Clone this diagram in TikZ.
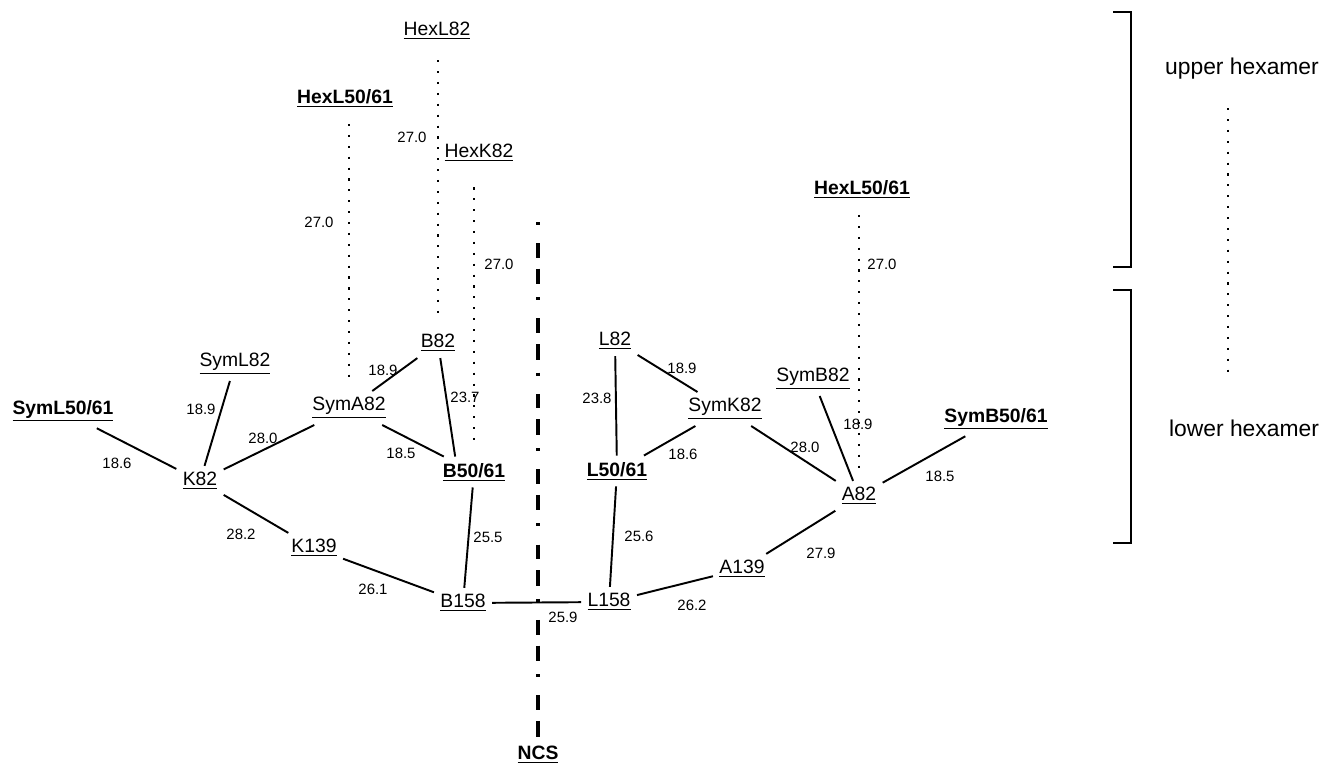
\documentclass[tikz,border=0pt]{standalone}
\usepackage{fontspec}
\setmainfont{Liberation Sans}
\usetikzlibrary{calc}
\tikzset{
  res/.style={inner sep=3.5pt,font=\fontsize{11}{13}\selectfont},
  resb/.style={res,font=\fontsize{11}{13}\selectfont\bfseries},
  dist/.style={inner sep=0pt,font=\fontsize{8.5}{10}\selectfont},
  hexlab/.style={inner sep=2pt,font=\fontsize{13}{15}\selectfont},
  bond/.style={line width=1.1pt},
  contact/.style={line width=1.3pt,dash pattern=on 1.2pt off 5pt},
  ncsaxis/.style={line width=2.4pt,dash pattern=on 1.6pt off 10.4pt on 8.3pt off 6.3pt on 8.9pt off 7.4pt},
  brk/.style={line width=1.2pt}
}

\begin{document}
\begin{tikzpicture}[x=0.02cm,y=-0.02cm]
\useasboundingbox (0,0) rectangle (1325,767);

% upper hexamer residues
\node[res]  (HexL82)   at (437,31)  {\underline{HexL82}};
\node[res]  (HexK82)   at (479,153) {\underline{HexK82}};
\node[resb] (HexLa)    at (345,98)  {\underline{HexL50/61}};
\node[resb] (HexLb)    at (862,189) {\underline{HexL50/61}};

% lower hexamer residues
\node[resb] (SymL5061) at (63,411)  {\underline{SymL50/61}};
\node[res]  (SymL82)   at (235,364) {\underline{SymL82}};
\node[res]  (K82)      at (200,481) {\underline{K82}};
\node[res]  (SymA82)   at (349,408) {\underline{SymA82}};
\node[res]  (B82)      at (438,343) {\underline{B82}};
\node[resb] (B5061)    at (474,472) {\underline{B50/61}};
\node[res]  (K139)     at (314,548) {\underline{K139}};
\node[res]  (B158)     at (463,603) {\underline{B158}};
\node[res]  (L158)     at (609,602) {\underline{L158}};
\node[res]  (L82)      at (615,341) {\underline{L82}};
\node[res]  (SymK82)   at (725,409) {\underline{SymK82}};
\node[resb] (L5061)    at (617,471) {\underline{L50/61}};
\node[res]  (SymB82)   at (813,379) {\underline{SymB82}};
\node[resb] (SymB5061) at (996,419) {\underline{SymB50/61}};
\node[res]  (A82)      at (859,496) {\underline{A82}};
\node[res]  (A139)     at (742,569) {\underline{A139}};
\node[resb] (NCS)      at (538,755) {\underline{NCS}};

% bonds
\foreach \a/\b in {SymL5061/K82,SymL82/K82,K82/SymA82,SymA82/B82,SymA82/B5061,
  K82/K139,K139/B158,B5061/B158,B158/L158,L82/SymK82,L82/L5061,SymK82/L5061,
  SymK82/A82,L5061/L158,SymB82/A82,SymB5061/A82,A82/A139,A139/L158}
  \draw[bond] (\a) -- (\b);
\draw[bond] (B82) -- ($(B5061.north)!0.5!(B5061.north west)$);

% contacts to the upper hexamer
\draw[contact,shorten <=6pt,shorten >=6pt] (SymA82 |- HexLa.south) -- (SymA82.north);
\draw[contact,shorten <=8pt,shorten >=6pt] (B82 |- HexL82.south) -- (B82.north);
\draw[contact,shorten <=11pt,shorten >=5pt] (B5061 |- HexK82.south) -- (B5061.north);
\draw[contact,shorten <=6pt,shorten >=5pt] (A82 |- HexLb.south) -- (A82.north);

% distances
\foreach \n/\x/\y/\t in {d1/117/463/18.6,d2/201/409/18.9,d3/263/438/28.0,d4/383/370/18.9,
  d5/465/397/23.7,d6/401/453/18.5,d7/241/534/28.2,d8/373/589/26.1,d9/488/537/25.5,
  d10/563/617/25.9,d11/682/368/18.9,d12/597/398/23.8,d13/683/454/18.6,d14/805/447/28.0,
  d15/639/536/25.6,d16/858/424/18.9,d17/940/476/18.5,d18/821/553/27.9,d19/692/605/26.2,
  d20/319/222/27.0,d21/412/137/27.0,d22/499/264/27.0,d23/882/264/27.0}
  \node[dist] (\n) at (\x,\y) {\t};

% non-crystallographic symmetry axis
\coordinate (ncstop) at (538,222);
\draw[ncsaxis] (ncstop) -- (NCS.north);

% hexamer brackets
\draw[brk] (1113,12) -- (1131,12) -- (1131,267) -- (1113,267);
\draw[brk] (1113,290) -- (1131,290) -- (1131,543) -- (1113,543);
\node[hexlab] (upper) at (1242,69)  {upper hexamer};
\node[hexlab] (lower) at (1244,428) {lower hexamer};
\draw[contact,shorten <=14pt,shorten >=25pt] ($(upper.south)+(-14,0)$) -- ($(lower.north)+(-16,0)$);
\end{tikzpicture}
\end{document}
